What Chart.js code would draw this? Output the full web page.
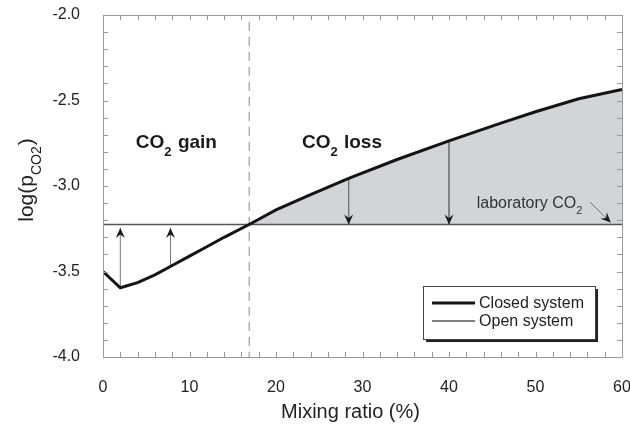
<!DOCTYPE html>
<html>
<head>
<meta charset="utf-8">
<script src="https://cdn.jsdelivr.net/npm/chart.js@4.4.1/dist/chart.umd.min.js"></script>
<style>
  html, body { margin: 0; padding: 0; background: #fff; }
</style>
</head>
<body>
<canvas id="mix-plot" width="630" height="427"></canvas>
<script>
// closed system (thick curve)
const closedX = [0, 2, 4, 6, 8, 10, 12, 14, 17, 20, 24, 28.4, 34, 40, 46, 50, 55, 60];
const closedY = [-3.50, -3.595, -3.565, -3.52, -3.465, -3.41, -3.355, -3.30, -3.222, -3.14, -3.05, -2.955, -2.845, -2.736, -2.632, -2.566, -2.49, -2.435];

// open system = laboratory CO2
const labCO2 = -3.225;
const boundaryX = 16.9;

// arrows between the two systems
const arrowX = [2, 7.8, 28.4, 40];
const arrowFromY = [-3.595, -3.47, -2.955, -2.736];

const xTicks = [0, 10, 20, 30, 40, 50, 60];
const yTicks = [-4.0, -3.5, -3.0, -2.5, -2.0];
const legendLabels = ['Closed system', 'Open system'];

const FONT = '"Liberation Sans", Arial, Helvetica, sans-serif';

let pts = (xs, ys) => xs.map((x, i) => ({ x: x, y: ys[i] }));

let datasets = [];
datasets.push({
  label: legendLabels[0],
  data: pts(closedX, closedY),
  borderColor: '#141414',
  borderWidth: 3,
  pointRadius: 0,
  order: 0
});
datasets.push({
  label: legendLabels[1],
  data: [{ x: 0, y: labCO2 }, { x: 60, y: labCO2 }],
  borderColor: '#555',
  borderWidth: 1.6,
  pointRadius: 0,
  order: 1
});
datasets.push({
  label: 'boundary',
  data: [{ x: boundaryX, y: -2.04 }, { x: boundaryX, y: -4.0 }],
  borderColor: '#8a8a8a',
  borderWidth: 1,
  borderDash: [9, 6],
  pointRadius: 0,
  order: 2
});
arrowX.forEach((x, i) => {
  let up = arrowFromY[i] < labCO2;
  datasets.push({
    label: 'arrow' + i,
    data: [{ x: x, y: arrowFromY[i] }, { x: x, y: up ? labCO2 - 0.02 : labCO2 }],
    borderColor: '#777',
    borderWidth: 1,
    pointRadius: 0,
    order: 3
  });
});
datasets.push({
  label: 'labArrow',
  data: [{ x: 56.3, y: -3.094 }, { x: 58.7, y: -3.214 }],
  borderColor: '#777',
  borderWidth: 1,
  pointRadius: 0,
  order: 3
});
// shaded CO2 loss area
let shadeIdx = closedX.map((x, i) => i).filter(i => closedX[i] >= 17);
datasets.push({
  label: 'shade',
  data: shadeIdx.map(i => ({ x: closedX[i], y: closedY[i] })),
  borderWidth: 0,
  pointRadius: 0,
  backgroundColor: '#d3d4d7',
  fill: { value: labCO2 },
  order: 10
});

function arrowHead(ctx, x, y, ang) {
  ctx.save();
  ctx.translate(x, y);
  ctx.rotate(ang);
  ctx.beginPath();
  ctx.moveTo(0, 0);
  ctx.lineTo(-10, -4.5);
  ctx.lineTo(-6.5, 0);
  ctx.lineTo(-10, 4.5);
  ctx.closePath();
  ctx.fillStyle = '#1a1a1a';
  ctx.fill();
  ctx.restore();
}

// text with subscripts: parts = [[text, isSub], ...]
function subText(ctx, parts, x, y, size, bold) {
  let w = bold ? 'bold ' : '';
  parts.forEach(p => {
    let s = p[1] ? Math.round(size * 0.68) : size;
    ctx.font = w + s + 'px ' + FONT;
    ctx.fillText(p[0], x, p[1] ? y + size * 0.4 : y);
    x += ctx.measureText(p[0]).width + (p[1] ? 1 : 0);
  });
  return x;
}

function subWidth(ctx, parts, size, bold) {
  let w = 0, b = bold ? 'bold ' : '';
  parts.forEach(p => {
    let s = p[1] ? Math.round(size * 0.68) : size;
    ctx.font = b + s + 'px ' + FONT;
    w += ctx.measureText(p[0]).width + (p[1] ? 1 : 0);
  });
  return w;
}

const decor = {
  id: 'decor',
  afterDatasetsDraw(chart) {
    const ctx = chart.ctx;
    const a = chart.chartArea;
    const xs = chart.scales.x, ys = chart.scales.y;
    ctx.save();

    // frame + inward ticks
    ctx.strokeStyle = '#9a9a9a';
    ctx.lineWidth = 1;
    ctx.strokeRect(Math.round(a.left) + 0.5, Math.round(a.top) + 0.5,
      Math.round(a.right - a.left), Math.round(a.bottom - a.top));
    ctx.beginPath();
    for (let v = 0; v <= 60; v += 2) {
      let px = Math.round(xs.getPixelForValue(v)) + 0.5;
      ctx.moveTo(px, a.bottom); ctx.lineTo(px, a.bottom - 5);
      ctx.moveTo(px, a.top); ctx.lineTo(px, a.top + 5);
    }
    for (let k = 0; k <= 20; k++) {
      let py = Math.round(ys.getPixelForValue(-4 + k * 0.1)) + 0.5;
      ctx.moveTo(a.left, py); ctx.lineTo(a.left + 5, py);
      ctx.moveTo(a.right, py); ctx.lineTo(a.right - 5, py);
    }
    ctx.stroke();

    // arrow heads
    chart.data.datasets.forEach((ds, i) => {
      if (!(ds.label.startsWith('arrow') || ds.label === 'labArrow')) return;
      let p0 = ds.data[0], p1 = ds.data[1];
      let x0 = xs.getPixelForValue(p0.x), y0 = ys.getPixelForValue(p0.y);
      let x1 = xs.getPixelForValue(p1.x), y1 = ys.getPixelForValue(p1.y);
      arrowHead(ctx, x1, y1, Math.atan2(y1 - y0, x1 - x0));
    });

    // region labels
    ctx.fillStyle = '#1a1a1a';
    ctx.textBaseline = 'alphabetic';
    ctx.textAlign = 'left';
    subText(ctx, [['CO'], ['2', true], [' gain']], xs.getPixelForValue(3.8), ys.getPixelForValue(-2.778), 19, true);
    subText(ctx, [['CO'], ['2', true], [' loss']], xs.getPixelForValue(23.0), ys.getPixelForValue(-2.778), 19, true);
    ctx.fillStyle = '#333';
    subText(ctx, [['laboratory CO'], ['2', true]], xs.getPixelForValue(43.2), ys.getPixelForValue(-3.129), 16, false);

    // legend box
    let bx = xs.getPixelForValue(37.0), by = ys.getPixelForValue(-3.585);
    let bw = 172, bh = 53;
    ctx.fillStyle = '#222';
    ctx.fillRect(bx + 3, by + 3, bw, bh);
    ctx.fillStyle = '#fff';
    ctx.fillRect(bx, by, bw, bh);
    ctx.strokeStyle = '#444';
    ctx.lineWidth = 1;
    ctx.strokeRect(Math.round(bx) + 0.5, Math.round(by) + 0.5, bw, bh);
    ctx.font = '16px ' + FONT;
    ctx.textBaseline = 'middle';
    ctx.fillStyle = '#222';
    [[3, '#141414'], [1.6, '#555']].forEach((st, i) => {
      let ly = by + 17 + i * 18;
      ctx.beginPath();
      ctx.strokeStyle = st[1];
      ctx.lineWidth = st[0];
      ctx.moveTo(bx + 9, ly); ctx.lineTo(bx + 52, ly);
      ctx.stroke();
      ctx.fillText(legendLabels[i], bx + 56, ly + 1);
    });

    // axis titles
    ctx.fillStyle = '#222';
    ctx.textBaseline = 'alphabetic';
    ctx.font = '20px ' + FONT;
    ctx.textAlign = 'center';
    ctx.fillText('Mixing ratio (%)', (a.left + a.right) / 2 - 12, 418);
    ctx.textAlign = 'left';
    let yt = [['log(p'], ['CO2', true], [')']];
    let tw = subWidth(ctx, yt, 21, false);
    ctx.save();
    ctx.translate(33, (a.top + a.bottom) / 2 - 6);
    ctx.rotate(-Math.PI / 2);
    subText(ctx, yt, -tw / 2, 0, 21, false);
    ctx.restore();

    ctx.restore();
  }
};

new Chart('mix-plot', {
  type: 'line',
  data: { datasets: datasets },
  options: {
    responsive: false,
    animation: false,
    layout: { padding: { top: 15, right: 8, left: 0, bottom: 0 } },
    plugins: {
      legend: { display: false },
      tooltip: { enabled: false }
    },
    scales: {
      x: {
        type: 'linear',
        min: 0,
        max: 60,
        afterBuildTicks: s => { s.ticks = xTicks.map(v => ({ value: v })); },
        afterFit: s => { s.height = 70; s.paddingLeft = 0; s.paddingRight = 0; },
        ticks: { color: '#222', padding: 13, font: { size: 16, family: FONT } },
        grid: { display: false },
        border: { display: false }
      },
      y: {
        min: -4,
        max: -2,
        afterBuildTicks: s => { s.ticks = yTicks.map(v => ({ value: v })); },
        afterFit: s => { s.width = 103; s.paddingTop = 0; s.paddingBottom = 0; },
        ticks: {
          color: '#222',
          padding: 15,
          font: { size: 16, family: FONT },
          callback: v => v.toFixed(1)
        },
        grid: { display: false },
        border: { display: false }
      }
    }
  },
  plugins: [decor]
});
</script>
</body>
</html>
